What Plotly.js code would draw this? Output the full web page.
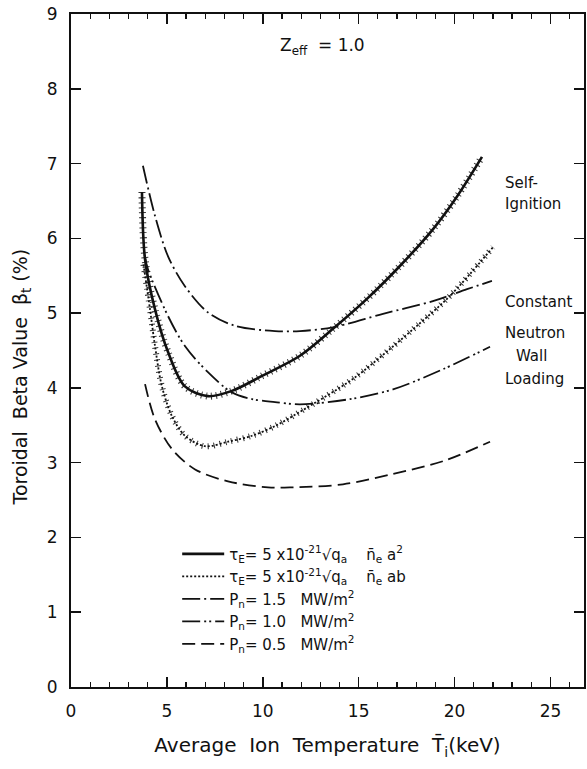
<!DOCTYPE html>
<html>
<head>
<meta charset="utf-8">
<script src="https://cdn.plot.ly/plotly-3.0.1.min.js"></script>
<style>
  html, body { margin: 0; padding: 0; background: #fff; }
  #chart { width: 587px; height: 769px; }
</style>
</head>
<body>
<div id="chart"></div>
<script>
// Average ion temperature (keV) and toroidal beta (%) for each operating curve.

// Self-ignition, tau_E ~ n a^2
const tSelfA2 = [3.70, 3.86, 4.38, 5.06, 5.94, 7.14, 8.39, 9.96, 11.94, 13.66, 15.43, 17.15, 18.87, 20.13, 21.43];
const bSelfA2 = [6.62, 5.72, 5.05, 4.48, 4.02, 3.89, 3.96, 4.16, 4.43, 4.79, 5.19, 5.63, 6.12, 6.56, 7.09];

// Self-ignition, tau_E ~ n a b
const tSelfAB = [3.78, 4.12, 4.38, 4.74, 5.27, 5.94, 6.99, 8.19, 9.44, 10.64, 11.94, 14.70, 16.63, 18.04, 19.76, 22.00];
const bSelfAB = [5.65, 5.05, 4.56, 4.02, 3.62, 3.36, 3.22, 3.28, 3.36, 3.49, 3.68, 4.12, 4.52, 4.83, 5.23, 5.88];

// Constant neutron wall loading, Pn = 1.5 MW/m^2
const tPn15 = [3.75, 4.38, 5.06, 5.94, 7.14, 8.55, 10.64, 11.94, 13.66, 16.27, 18.87, 20.65, 21.95];
const bPn15 = [6.97, 6.30, 5.76, 5.36, 5.01, 4.83, 4.76, 4.76, 4.81, 4.99, 5.16, 5.32, 5.43];

// Pn = 1.0 MW/m^2
const tPn10 = [3.84, 4.01, 5.06, 5.94, 7.14, 8.39, 9.44, 10.64, 11.94, 14.55, 16.79, 19.40, 21.85];
const bPn10 = [5.78, 5.59, 4.96, 4.56, 4.21, 3.94, 3.85, 3.81, 3.78, 3.85, 3.98, 4.25, 4.55];

// Pn = 0.5 MW/m^2
const tPn05 = [3.86, 4.38, 5.27, 6.47, 8.19, 10.27, 11.57, 14.18, 16.79, 19.40, 21.85];
const bPn05 = [4.05, 3.58, 3.18, 2.91, 2.75, 2.67, 2.67, 2.71, 2.85, 3.02, 3.28];

const legendNames = [
  'τ<sub>E</sub>= 5 x10<sup>-21</sup>√q<sub>a</sub>    n\u0304<sub>e</sub> a<sup>2</sup>',
  'τ<sub>E</sub>= 5 x10<sup>-21</sup>√q<sub>a</sub>    n\u0304<sub>e</sub> ab',
  'P<sub>n</sub>= 1.5   MW/m<sup>2</sup>',
  'P<sub>n</sub>= 1.0   MW/m<sup>2</sup>',
  'P<sub>n</sub>= 0.5   MW/m<sup>2</sup>'
];

const FONT = 'DejaVu Sans, sans-serif';
const INK = '#111';

function curve(x, y, name, dash, width) {
  return {
    x: x, y: y, name: name, type: 'scatter', mode: 'lines',
    line: { color: INK, width: width, dash: dash, shape: 'spline', smoothing: 0.9 },
    hoverinfo: 'skip'
  };
}

// comb of short ticks along the self-ignition curves
function hatch(x, y, width, dash) {
  return {
    x: x, y: y, type: 'scatter', mode: 'lines', showlegend: false,
    line: { color: INK, width: width, dash: dash, shape: 'spline', smoothing: 0.9 },
    opacity: 0.85,
    hoverinfo: 'skip'
  };
}

const traces = [
  hatch(tSelfA2, bSelfA2, 7, '1px,4px'),
  hatch(tSelfAB, bSelfAB, 6, '1px,5px'),
  curve(tSelfA2, bSelfA2, legendNames[0], 'solid', 2.6),
  curve(tSelfAB, bSelfAB, legendNames[1], '2px,2px', 1.8),
  curve(tPn15, bPn15, legendNames[2], '18px,4px,2px,4px', 1.8),
  curve(tPn10, bPn10, legendNames[3], '18px,4px,2px,3px,2px,4px', 1.8),
  curve(tPn05, bPn05, legendNames[4], '13px,6px', 1.8)
];

const label = (text, x, y, anchor) => ({
  text: text, xref: 'paper', yref: 'paper', x: x, y: y,
  xanchor: anchor || 'left', yanchor: 'middle', showarrow: false,
  font: { family: FONT, size: 15, color: INK }
});

const layout = {
  width: 587, height: 769,
  margin: { l: 71, r: 3, t: 14, b: 82 },
  paper_bgcolor: '#fff', plot_bgcolor: '#fff',
  font: { family: FONT, color: INK },
  showlegend: true,
  legend: {
    x: 0.207, y: 0.222, xanchor: 'left', yanchor: 'top',
    bgcolor: 'rgba(0,0,0,0)', borderwidth: 0,
    font: { family: FONT, size: 15, color: INK },
    tracegroupgap: 0, itemwidth: 42
  },
  xaxis: {
    range: [0, 26.75], tickmode: 'linear', tick0: 0, dtick: 5,
    ticks: 'inside', ticklen: 10, tickwidth: 1.5, tickcolor: INK,
    minor: { dtick: 1, ticks: 'inside', ticklen: 5, tickwidth: 1.2, tickcolor: INK },
    showline: true, linecolor: INK, linewidth: 2, mirror: 'ticks',
    showgrid: false, zeroline: false,
    tickfont: { family: FONT, size: 17, color: INK },
    ticklabelstandoff: 8,
    title: { text: 'Average  Ion  Temperature  T\u0304<sub>i</sub>(keV)', font: { family: FONT, size: 20, color: INK }, standoff: 18 }
  },
  yaxis: {
    range: [0, 9], tickmode: 'linear', tick0: 0, dtick: 1,
    ticks: 'inside', ticklen: 10, tickwidth: 1.5, tickcolor: INK,
    showline: true, linecolor: INK, linewidth: 2, mirror: 'ticks',
    showgrid: false, zeroline: false,
    tickfont: { family: FONT, size: 17, color: INK },
    ticklabelstandoff: 8
  },
  annotations: [
    {
      text: 'Toroidal  Beta Value  β<sub>t</sub> (%)', textangle: -90,
      xref: 'paper', yref: 'paper', x: -0.096, y: 0.461,
      xanchor: 'center', yanchor: 'middle', showarrow: false,
      font: { family: FONT, size: 19, color: INK }
    },
    {
      text: 'Z<sub>eff</sub>  = 1.0', xref: 'paper', yref: 'paper', x: 0.491, y: 0.951,
      xanchor: 'center', yanchor: 'middle', showarrow: false,
      font: { family: FONT, size: 17, color: INK }
    },
    label('Self-', 0.842, 0.749),
    label('Ignition', 0.842, 0.717),
    label('Constant', 0.842, 0.572),
    label('Neutron', 0.842, 0.526),
    label('Wall', 0.898, 0.492, 'center'),
    label('Loading', 0.842, 0.458)
  ]
};

Plotly.newPlot('chart', traces, layout, { staticPlot: true, displayModeBar: false });
</script>
</body>
</html>
